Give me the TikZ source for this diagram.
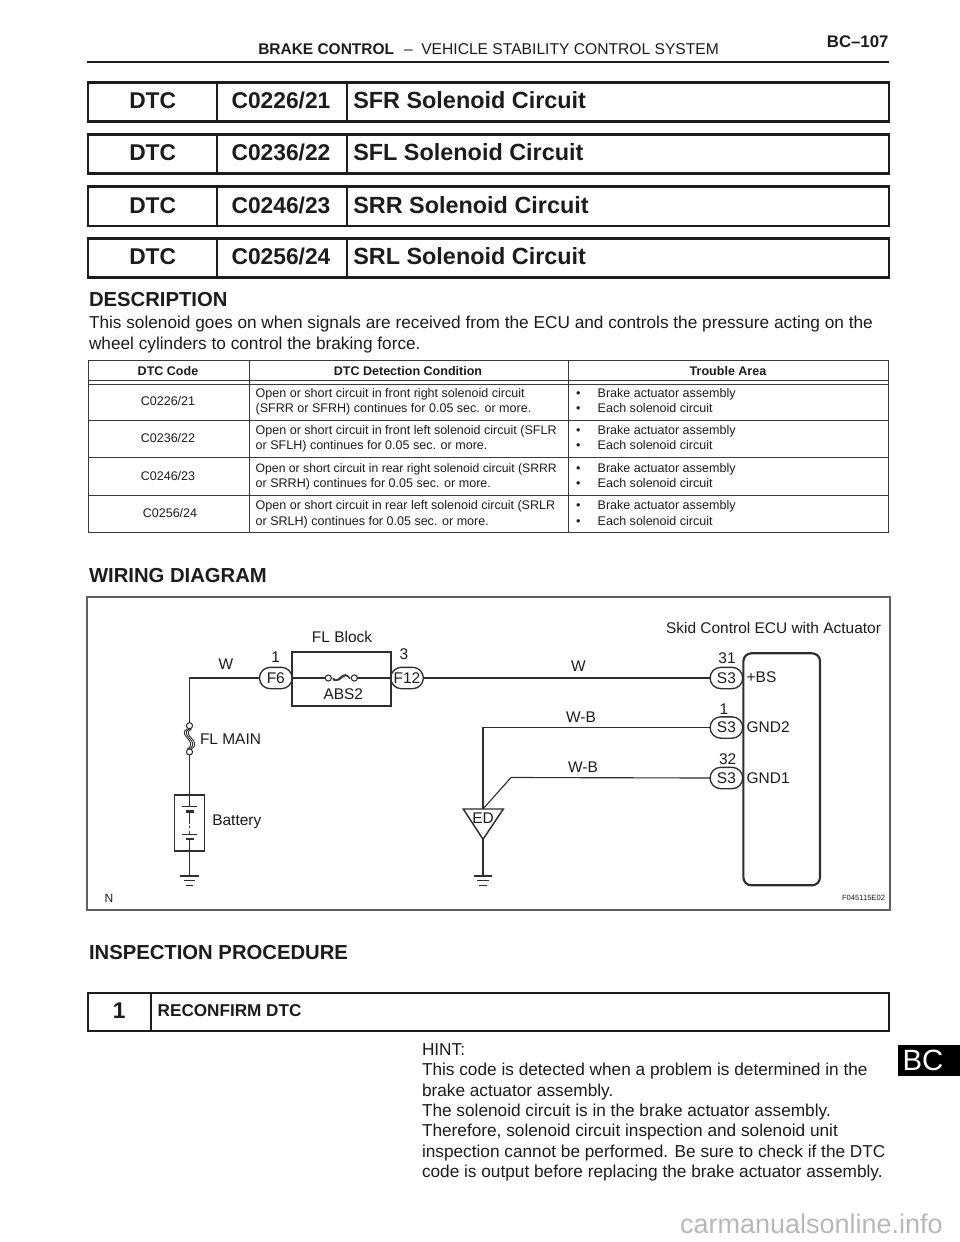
\documentclass[tikz,border=0pt]{standalone}
\usepackage{fontspec}
\setmainfont{Liberation Sans}
\usetikzlibrary{shapes.misc}
\definecolor{ink}{HTML}{1C1C1C}
\definecolor{wire}{HTML}{2E2E2E}
\definecolor{rule}{HTML}{3A3A3A}
\newcommand{\tightline}[1]{{\fontsize{9.15pt}{11pt}\selectfont #1}}
\tikzset{
  txt/.style={anchor=base west,inner sep=0,outer sep=0,text=ink},
  ctr/.style={anchor=base,inner sep=0,outer sep=0,text=ink},
  rgt/.style={anchor=base east,inner sep=0,outer sep=0,text=ink},
  mid/.style={anchor=west,inner sep=0,outer sep=0,text=ink},
  fbody/.style={font=\fontsize{12.93pt}{15pt}\selectfont},
  ftable/.style={font=\fontsize{9.4pt}{11pt}\selectfont},
  ftableb/.style={font=\fontsize{9.4pt}{11pt}\selectfont\bfseries},
  fdiag/.style={font=\fontsize{11.6pt}{14pt}\selectfont},
  fhead/.style={font=\fontsize{15.2pt}{18pt}\selectfont\bfseries},
  fdtc/.style={font=\fontsize{17.1pt}{20pt}\selectfont\bfseries},
  fname/.style={font=\fontsize{17.55pt}{20pt}\selectfont\bfseries},
  pill/.style={rounded rectangle,draw=wire,line width=1pt,fill=white,minimum width=24.5pt,minimum height=16pt,inner sep=0,outer sep=0,text=ink,font=\fontsize{11.6pt}{14pt}\selectfont},
  conn/.style={draw=wire,line width=.85pt},
  heavy/.style={draw=wire,line width=1.2pt},
  dot/.style={circle,draw=wire,line width=.8pt,fill=white,minimum size=4.6pt,inner sep=0,outer sep=0},
  tline/.style={draw=rule,line width=.75pt},
  lab/.style={anchor=center,inner sep=0,outer sep=0,text=ink,fdiag},
}
\begin{document}
\begin{tikzpicture}[x=0.75pt,y=-0.75pt]
\path[use as bounding box,fill=white] (0,0) rectangle (960,1242);

% page header
\node[txt,font=\fontsize{11.6pt}{14pt}\selectfont\bfseries] (hd1) at (258.3,54.3) {BRAKE CONTROL};
\node[txt,font=\fontsize{11.72pt}{14pt}\selectfont] (hd2) at (404,54.3) {–\hspace{0.55em}VEHICLE STABILITY CONTROL SYSTEM};
\node[rgt,font=\fontsize{12.6pt}{15pt}\selectfont\bfseries] (pg) at (888.5,47) {BC–107};
\draw[draw=ink,line width=1.5pt] (87,62) -- (889,62);

% DTC title boxes
\foreach \n/\yt/\yb/\code/\name in {1/82.7/121.7/C0226\slash 21/SFR,2/134.3/173.7/C0236\slash 22/SFL,3/186.3/226/C0246\slash 23/SRR,4/238.3/277.7/C0256\slash 24/SRL}{
  \draw[draw=ink,line width=1.9pt] (88,\yt) rectangle (889,\yb);
  \draw[draw=ink,line width=1.5pt] (217,\yt) -- (217,\yb) (346.7,\yt) -- (346.7,\yb);
  \pgfmathsetmacro{\yy}{\yb-13}
  \node[ctr,fdtc] (dtc\n) at (152.7,\yy) {DTC};
  \node[ctr,fdtc] (code\n) at (281,\yy) {\code};
  \node[txt,fname] (name\n) at (353.3,\yy) {\name{} Solenoid Circuit};
}

% description
\node[txt,fhead] (desc) at (89,306) {DESCRIPTION};
\node[txt,fbody] (d1) at (89,328) {This solenoid goes on when signals are received from the ECU and controls the pressure acting on the};
\node[txt,fbody] (d2) at (89,349) {wheel cylinders to control the braking force.};

% table
\draw[tline] (88,360) rectangle (888,532.7);
\draw[tline] (88,380) -- (888,380) (88,384) -- (888,384);
\draw[tline] (88,420) -- (888,420) (88,457.7) -- (888,457.7) (88,495.3) -- (888,495.3);
\draw[tline] (249,360) -- (249,532.7) (568,360) -- (568,532.7);
\node[ctr,ftableb] (th1) at (168,375) {DTC Code};
\node[ctr,ftableb] (th2) at (408,375) {DTC Detection Condition};
\node[ctr,ftableb] (th3) at (728,375) {Trouble Area};
\foreach \n/\ya/\yc/\xc/\code/\la/\lb in {
  1/397/405/168/C0226\slash 21/Open or short circuit in front right solenoid circuit/(SFRR or SFRH) continues for 0.05 sec. or more.,
  2/434.6/442.6/168/C0236\slash 22/Open or short circuit in front left solenoid circuit (SFLR/or SFLH) continues for 0.05 sec. or more.,
  3/472.2/480.2/168/C0246\slash 23/\tightline{Open or short circuit in rear right solenoid circuit (SRRR}/or SRRH) continues for 0.05 sec. or more.,
  4/509.8/517.8/170/C0256\slash 24/Open or short circuit in rear left solenoid circuit (SRLR/or SRLH) continues for 0.05 sec. or more.}{
  \pgfmathsetmacro{\yd}{\ya+15.2}
  \node[ctr,ftable] (tc\n) at (\xc,\yc) {\code};
  \node[txt,ftable] (ta\n) at (255.7,\ya) {\la};
  \node[txt,ftable] (tb\n) at (255.7,\yd) {\lb};
  \node[txt,ftable] (ba\n) at (576,\ya) {•};
  \node[txt,ftable] (bb\n) at (576,\yd) {•};
  \node[txt,ftable] (tra\n) at (597.7,\ya) {Brake actuator assembly};
  \node[txt,ftable] (trb\n) at (597.7,\yd) {Each solenoid circuit};
}

\node[txt,fhead] (wd) at (89,582) {WIRING DIAGRAM};

% wiring diagram
\draw[draw=black!62,line width=1pt] (87,597) rectangle (890,910);

\node[pill] (f6) at (275.8,678) {F6};
\node[pill] (f12) at (407,678) {F12};
\node[pill] (s31) at (726.4,678) {S3};
\node[pill] (s1) at (726.4,727.5) {S3};
\node[pill] (s32) at (726.4,778) {S3};
\node[draw=wire,line width=1.4pt,fill=white,minimum width=73.8pt,minimum height=40.5pt,inner sep=0,outer sep=0] (fl) at (341.5,679) {};
\node[draw=wire,line width=1.6pt,rounded corners=6pt,fill=white,minimum width=57.5pt,minimum height=174pt,inner sep=0,outer sep=0] (ecu) at (781.7,769.3) {};
\node[draw=wire,line width=1.4pt,fill=white,minimum width=22.5pt,minimum height=41.8pt,inner sep=0,outer sep=0] (batt) at (189.5,823) {};

\node[dot] (fi1) at (328.3,678) {};
\node[dot] (fi2) at (354.3,678) {};
\node[dot] (fm1) at (189.5,725.7) {};
\node[dot] (fm2) at (189.5,752) {};

\coordinate (edt) at (483,809);
\coordinate (edl) at (463.3,809);
\coordinate (edr) at (503.3,809);
\coordinate (edb) at (483,839.3);
\coordinate (bend) at (511,777.5);
\coordinate (g1) at (189.5,876);
\coordinate (g2) at (483,876);
\coordinate (c1t) at (189.5,806.7);
\coordinate (c1b) at (189.5,811.5);
\coordinate (c1e) at (189.5,817.5);
\coordinate (c2t) at (189.5,834.3);
\coordinate (c2b) at (189.5,839);

% connectors
\draw[conn] (f6.west) -| (fm1.north);
\draw[conn] (f6.east) -- (fi1.west);
\draw[conn] (fi2.east) -- (f12.west);
\draw[conn] (f12.east) -- (s31.west);
\draw[conn] (s1.west) -| (edt);
\draw[conn] (s32.west) -- (bend) -- (edt);
\draw[conn] (fm2.south) -- (c1t);
\draw[conn] (c2b) -- (g1);
\draw[conn] (c1b) -- (c1e);
\draw[conn,dash pattern=on 4.5pt off 2pt on 1.5pt off 2pt] (c1e) -- (c2t);
\draw[conn] (edb) -- (g2);

% fuses
\draw[conn] ([xshift=1pt]fi1.east) .. controls (340,686) and (343,670) .. ([xshift=-1pt]fi2.west);
\draw[conn] ([xshift=1pt,yshift=-1.3pt]fi1.east) .. controls (340,683.5) and (343,667.5) .. ([xshift=-1pt,yshift=-.6pt]fi2.west);
\foreach \d in {-1.5,0,1.5}{
  \draw[draw=wire,line width=.65pt] ([xshift=\d pt]fm1.south) .. controls ([xshift=\d pt]178,735) and ([xshift=\d pt]201,741) .. ([xshift=\d pt]fm2.north);
}

% battery cells
\draw[conn] (181.7,806.7) -- (197.3,806.7);
\draw[draw=wire,line width=2pt] (185.5,811.5) -- (193.5,811.5);
\draw[conn] (181.7,834.3) -- (197.3,834.3);
\draw[draw=wire,line width=2pt] (185.5,839) -- (193.5,839);

% grounds
\foreach \g in {g1,g2}{
  \draw[draw=wire,line width=1.4pt] ([xshift=-7pt]\g) -- ([xshift=7pt]\g);
  \draw[conn] ([xshift=-4.3pt,yshift=-3.6pt]\g) -- ([xshift=4.3pt,yshift=-3.6pt]\g);
  \draw[conn] ([xshift=-2.8pt,yshift=-7pt]\g) -- ([xshift=2.8pt,yshift=-7pt]\g);
}

% ED triangle
\draw[draw=wire,line width=1.1pt] (edl) -- (edr) -- (edb) -- cycle;
\node[lab] (ed) at (483,818) {ED};

% diagram labels
\node[lab] (lbfl) at (342,637.3) {FL Block};
\node[lab] (lbw1) at (226,664) {W};
\node[lab] (lbn1) at (275.7,657) {1};
\node[lab] (lbn3) at (404,654) {3};
\node[lab] (lbabs) at (343.3,694) {ABS2};
\node[mid,fdiag] (lbmain) at (200,739) {FL MAIN};
\node[mid,fdiag] (lbbat) at (212.3,821.3) {Battery};
\node[anchor=east,inner sep=0,outer sep=0,text=ink,fdiag] (lbskid) at (881,628.3) {Skid Control ECU with Actuator};
\node[lab] (lbw2) at (578.3,665.7) {W};
\node[lab] (lbwb1) at (581,716.7) {W-B};
\node[lab] (lbwb2) at (583,766.7) {W-B};
\node[lab] (lb31) at (727,658.3) {31};
\node[lab] (lb1) at (724,708.7) {1};
\node[lab] (lb32) at (727.7,758.7) {32};
\node[mid,fdiag] (lbbs) at (746.7,677.3) {+BS};
\node[mid,fdiag] (lbg2) at (746.7,727.3) {GND2};
\node[mid,fdiag] (lbg1) at (746.7,777.7) {GND1};
\node[anchor=center,inner sep=0,outer sep=0,text=ink,font=\fontsize{9pt}{11pt}\selectfont] (lbn) at (109,898.7) {N};
\node[anchor=east,inner sep=0,outer sep=0,text=ink,font=\fontsize{5.7pt}{7pt}\selectfont] (lbid) at (885,898) {F045115E02};

% inspection procedure
\node[txt,fhead] (insp) at (89,959) {INSPECTION PROCEDURE};
\draw[draw=ink,line width=1.5pt] (88.3,993.3) rectangle (889,1031);
\draw[draw=ink,line width=1.2pt] (150.7,993.3) -- (150.7,1031);
\node[anchor=center,inner sep=0,outer sep=0,text=ink,font=\fontsize{17.1pt}{20pt}\selectfont\bfseries] (stepn) at (119.3,1011) {1};
\node[txt,font=\fontsize{12.85pt}{16pt}\selectfont\bfseries] (stept) at (157.7,1016.7) {RECONFIRM DTC};

% hint
\foreach \n/\yy/\tx in {
  1/1055.5/HINT:,
  2/1075.8/This code is detected when a problem is determined in the,
  3/1096.2/brake actuator assembly.,
  4/1116.5/The solenoid circuit is in the brake actuator assembly.,
  5/1136.8/{Therefore, solenoid circuit inspection and solenoid unit},
  6/1157.2/inspection cannot be performed. Be sure to check if the DTC,
  7/1177.5/code is output before replacing the brake actuator assembly.}{
  \node[txt,fbody] (h\n) at (422,\yy) {\tx};
}

% side tab
\fill[black] (897.7,1044.7) rectangle (960,1075.7);
\node[anchor=center,inner sep=0,outer sep=0,text=white,font=\fontsize{22pt}{26pt}\selectfont] (tab) at (923,1060.3) {BC};

% watermark
\node[txt,text=black!28,font=\fontsize{20.25pt}{24pt}\selectfont] (wm) at (680,1233) {carmanualsonline.info};
\end{tikzpicture}
\end{document}
